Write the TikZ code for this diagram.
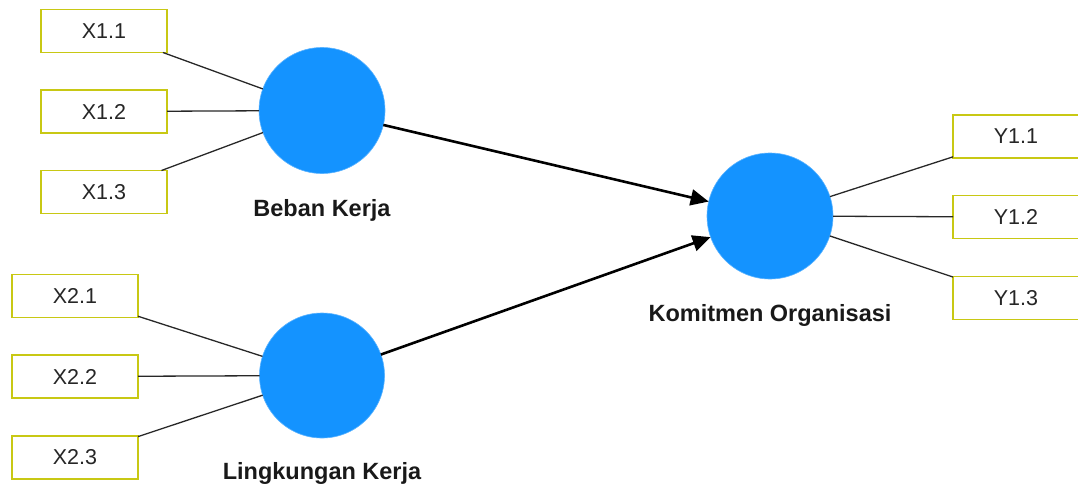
\documentclass[tikz,border=0pt]{standalone}
\usepackage{fontspec}
\setmainfont{Liberation Sans}
\usetikzlibrary{arrows.meta}
\definecolor{lvblue}{RGB}{20,147,255}
\definecolor{boxline}{RGB}{200,200,20}
\definecolor{thinline}{RGB}{40,40,40}
\tikzset{
  ind/.style={draw=boxline, line width=1.6pt, fill=white, minimum width=126pt, minimum height=43pt, inner sep=0pt, outer sep=0pt, font=\fontsize{21.5}{25}\selectfont, text=black!85},
  lv/.style={circle, fill=lvblue, draw=lvblue!70, line width=0.6pt, inner sep=0pt, outer sep=0pt},
  lvlabel/.style={anchor=base, font=\bfseries\fontsize{23.5}{27}\selectfont, text=black!90, inner sep=0pt},
  load/.style={draw=thinline, line width=1.3pt},
  path/.style={draw=black, line width=2.6pt, -{Triangle[length=18pt,width=16pt]}}
}
\begin{document}
\begin{tikzpicture}[x=1pt,y=-1pt]
\useasboundingbox (0,0) rectangle (1078,493);
% latent variables
\node[lv, minimum size=126pt] (BK) at (322,110.5) {};
\node[lv, minimum size=125pt] (LK) at (322,375.5) {};
\node[lv, minimum size=126pt] (KO) at (770,216) {};
% indicators
\node[ind] (x11) at (104,31) {X1.1};
\node[ind] (x12) at (104,111.5) {X1.2};
\node[ind] (x13) at (104,192) {X1.3};
\node[ind] (x21) at (75,296) {X2.1};
\node[ind] (x22) at (75,376.5) {X2.2};
\node[ind] (x23) at (75,457.5) {X2.3};
\node[ind] (y11) at (1016,136.5) {Y1.1};
\node[ind] (y12) at (1016,217) {Y1.2};
\node[ind] (y13) at (1016,298) {Y1.3};
% labels
\node[lvlabel] (lbk) at (322,216.5) {Beban Kerja};
\node[lvlabel] (llk) at (322,479) {Lingkungan Kerja};
\node[lvlabel] (lko) at (770,321.5) {Komitmen Organisasi};
% loadings
\draw[load] (x11) -- (BK);
\draw[load] (x12) -- (BK);
\draw[load] (x13) -- (BK);
\draw[load] (x21) -- (LK);
\draw[load] (x22) -- (LK);
\draw[load] (x23) -- (LK);
\draw[load] (KO) -- (y11);
\draw[load] (KO) -- (y12);
\draw[load] (KO) -- (y13);
% paths
\draw[path] (BK) -- (KO);
\draw[path] (LK) -- (KO);
\end{tikzpicture}
\end{document}
